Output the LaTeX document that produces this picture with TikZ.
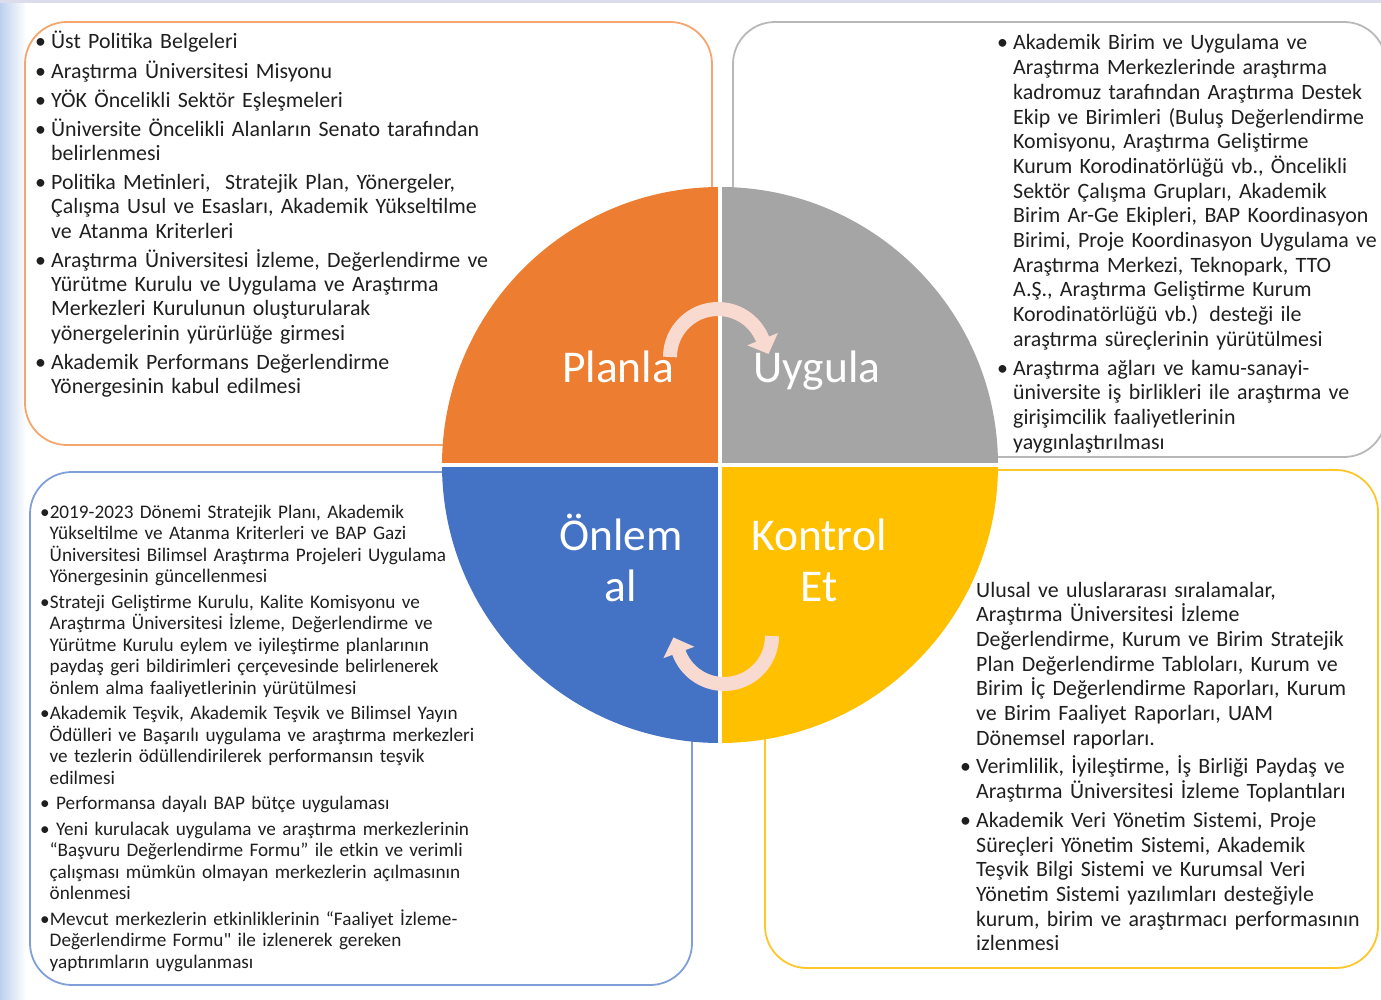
\documentclass[tikz,border=0pt]{standalone}
\usepackage{fontspec}
\setmainfont{Carlito}
\usepackage{xcolor}
\usetikzlibrary{arrows.meta}
\definecolor{plorange}{HTML}{ED7D31}
\definecolor{uygray}{HTML}{A5A5A5}
\definecolor{onblue}{HTML}{4472C4}
\definecolor{ktyellow}{HTML}{FFC000}
\definecolor{lnorange}{HTML}{F4A66E}
\definecolor{lngray}{HTML}{B8B8B8}
\definecolor{lnblue}{HTML}{809FD9}
\definecolor{lnyellow}{HTML}{FFC62A}
\definecolor{arrpink}{HTML}{F8DAD0}
\definecolor{txtdark}{HTML}{1F1F1F}
\definecolor{bgblue}{HTML}{BCD0EE}
\definecolor{bglav}{HTML}{DCDCEC}
% bullet lines (first item of a block without \par)
\newcommand{\fitm}{\hangindent=16pt\hangafter=1\noindent\makebox[16pt][l]{\textbullet}}
\newcommand{\itm}{\par\fitm}
\newcommand{\fitmb}{\hangindent=9.5pt\hangafter=1\noindent\textbullet}
\newcommand{\itmb}{\par\fitmb}
\newcommand{\fnob}{\hangindent=16pt\hangafter=0\noindent}
\tikzset{
  framebox/.style={draw,rectangle,rounded corners=42pt,line width=1.8pt,inner sep=0pt,outer sep=0pt},
  txtblk/.style={anchor=base west,inner sep=0pt,text width=560pt,align=left,text=txtdark},
  bigtxt/.style={txtblk,font=\fontsize{21.9}{24.3}\selectfont},
  widetxt/.style={txtblk,font=\fontsize{21.9}{24.7}\selectfont},
  smltxt/.style={txtblk,font=\fontsize{19.2}{21.5}\selectfont},
  quadlbl/.style={anchor=base,inner sep=0pt,text=white,align=center,font=\fontsize{45.5}{51}\selectfont},
  cycarr/.style={draw=arrpink,line width=14pt,-{Triangle[width=32pt,length=16pt]}}
}
\begin{document}
\begin{tikzpicture}[x=1pt,y=-1pt]
  \useasboundingbox (0,0) rectangle (1381,1000);
  % page edge
  \shade[left color=bgblue,right color=white] (0,0) rectangle (26,1000);
  \fill[bglav] (0,0) rectangle (1381,3);

  % Frames
  \node[framebox,draw=lnorange,minimum width=687pt,minimum height=423pt] (tlbox) at (368.5,233.5) {};
  \node[framebox,draw=lngray,minimum width=653pt,minimum height=435pt] (trbox) at (1059.5,239.5) {};
  \node[framebox,draw=lnblue,minimum width=662pt,minimum height=513pt] (blbox) at (361,728.5) {};
  \node[framebox,draw=lnyellow,minimum width=613pt,minimum height=498pt] (brbox) at (1071.5,719) {};

  % Planla text
  \node[bigtxt,execute at begin node={\setlength{\parskip}{4.8pt}}] (tltext) at (35,49) {%
    \fitm Üst Politika Belgeleri
    \itm Araştırma Üniversitesi Misyonu
    \itm YÖK Öncelikli Sektör Eşleşmeleri
    \itm Üniversite Öncelikli Alanların Senato tarafından\newline belirlenmesi
    \itm Politika Metinleri,\ \ Stratejik Plan, Yönergeler,\newline Çalışma Usul ve Esasları, Akademik Yükseltilme\newline ve Atanma Kriterleri
    \itm Araştırma Üniversitesi İzleme, Değerlendirme ve\newline Yürütme Kurulu ve Uygulama ve Araştırma\newline Merkezleri Kurulunun oluşturularak\newline yönergelerinin yürürlüğe girmesi
    \itm Akademik Performans Değerlendirme\newline Yönergesinin kabul edilmesi\par};

  % Uygula text
  \node[widetxt,execute at begin node={\setlength{\parskip}{4pt}}] (trtext) at (997,50) {%
    \fitm Akademik Birim ve Uygulama ve\newline Araştırma Merkezlerinde araştırma\newline kadromuz tarafından Araştırma Destek\newline Ekip ve Birimleri (Buluş Değerlendirme\newline Komisyonu, Araştırma Geliştirme\newline Kurum Korodinatörlüğü vb., Öncelikli\newline Sektör Çalışma Grupları, Akademik\newline Birim Ar-Ge Ekipleri, BAP Koordinasyon\newline Birimi, Proje Koordinasyon Uygulama ve\newline Araştırma Merkezi, Teknopark, TTO\newline A.Ş., Araştırma Geliştirme Kurum\newline Korodinatörlüğü vb.) desteği ile\newline araştırma süreçlerinin yürütülmesi
    \itm Araştırma ağları ve kamu-sanayi-\newline üniversite iş birlikleri ile araştırma ve\newline girişimcilik faaliyetlerinin\newline yaygınlaştırılması\par};

  % Onlem al text
  \node[smltxt,execute at begin node={\setlength{\parskip}{4pt}}] (bltext) at (40,518) {%
    \fitmb 2019-2023 Dönemi Stratejik Planı, Akademik\newline Yükseltilme ve Atanma Kriterleri ve BAP Gazi\newline Üniversitesi Bilimsel Araştırma Projeleri Uygulama\newline Yönergesinin güncellenmesi
    \itmb Strateji Geliştirme Kurulu, Kalite Komisyonu ve\newline Araştırma Üniversitesi İzleme, Değerlendirme ve\newline Yürütme Kurulu eylem ve iyileştirme planlarının\newline paydaş geri bildirimleri çerçevesinde belirlenerek\newline önlem alma faaliyetlerinin yürütülmesi
    \itmb Akademik Teşvik, Akademik Teşvik ve Bilimsel Yayın\newline Ödülleri ve Başarılı uygulama ve araştırma merkezleri\newline ve tezlerin ödüllendirilerek performansın teşvik\newline edilmesi
    \itmb\ Performansa dayalı BAP bütçe uygulaması
    \itmb\ Yeni kurulacak uygulama ve araştırma merkezlerinin\newline “Başvuru Değerlendirme Formu” ile etkin ve verimli\newline çalışması mümkün olmayan merkezlerin açılmasının\newline önlenmesi
    \itmb Mevcut merkezlerin etkinliklerinin “Faaliyet İzleme-\newline Değerlendirme Formu\textquotedbl{} ile izlenerek gereken\newline yaptırımların uygulanması\par};

  % Kontrol Et text
  \node[widetxt,execute at begin node={\setlength{\parskip}{4pt}}] (brtext) at (960,597) {%
    \fnob Ulusal ve uluslararası sıralamalar,\newline Araştırma Üniversitesi İzleme\newline Değerlendirme, Kurum ve Birim Stratejik\newline Plan Değerlendirme Tabloları, Kurum ve\newline Birim İç Değerlendirme Raporları, Kurum\newline ve Birim Faaliyet Raporları, UAM\newline Dönemsel raporları.
    \itm Verimlilik, İyileştirme, İş Birliği Paydaş ve\newline Araştırma Üniversitesi İzleme Toplantıları
    \itm Akademik Veri Yönetim Sistemi, Proje\newline Süreçleri Yönetim Sistemi, Akademik\newline Teşvik Bilgi Sistemi ve Kurumsal Veri\newline Yönetim Sistemi yazılımları desteğiyle\newline kurum, birim ve araştırmacı performasının\newline izlenmesi\par};

  % Cycle circle
  \coordinate (c) at (720,465);
  \fill[plorange] (c) -- ++(-278,0) arc[start angle=180,end angle=270,radius=278] -- cycle;
  \fill[uygray] (c) -- ++(0,-278) arc[start angle=270,end angle=360,radius=278] -- cycle;
  \fill[ktyellow] (c) -- ++(278,0) arc[start angle=0,end angle=90,radius=278] -- cycle;
  \fill[onblue] (c) -- ++(0,278) arc[start angle=90,end angle=180,radius=278] -- cycle;
  \draw[white,line width=4pt] (c) ++(0,-279) -- ++(0,558);
  \draw[white,line width=4pt] (c) ++(-279,0) -- ++(558,0);

  % Cycle arrows
  \draw[cycarr] (670,357) arc[start angle=180,end angle=338,radius=48] -- ++(6,15);
  \draw[cycarr] (772,636) arc[start angle=0,end angle=160,radius=48] -- ++(-5.5,-15);

  % Quadrant labels
  \node[quadlbl] (planla) at (618,382) {Planla};
  \node[quadlbl] (uygula) at (817,382) {Uygula};
  \node[quadlbl] (onlem) at (621,601) {Önlem\\al};
  \node[quadlbl] (kontrol) at (819,601) {Kontrol\\Et};
\end{tikzpicture}
\end{document}
